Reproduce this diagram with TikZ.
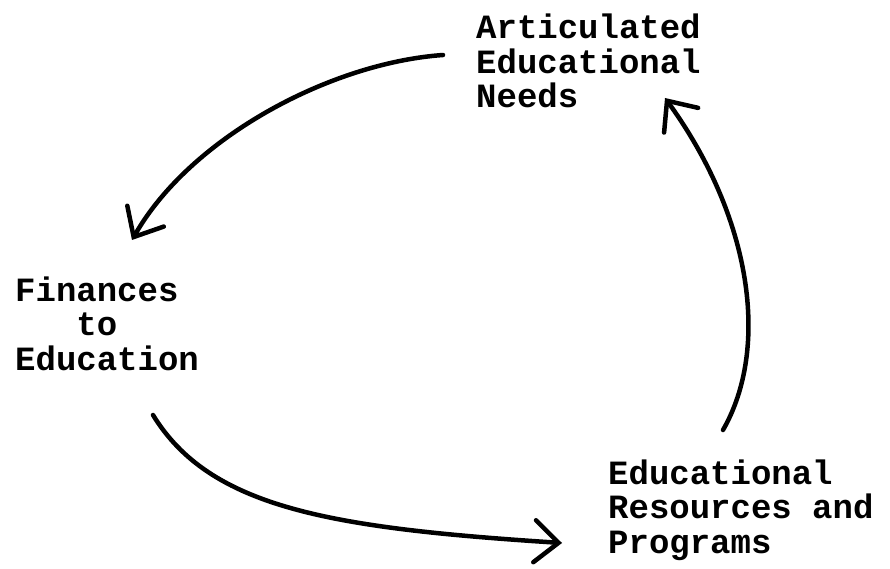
\documentclass[tikz,border=0pt]{standalone}
\usepackage{fontspec}
\newfontfamily\typewriter{Liberation Mono}
\usetikzlibrary{arrows.meta}

\begin{document}
\begin{tikzpicture}[x=1pt, y=1pt,
      every node/.style = {font=\typewriter\bfseries\fontsize{34}{34.5}\selectfont,
        align=left, inner sep=0pt, anchor=base west},
      flow/.style = {line width=4.5pt, line cap=round,
        -{Straight Barb[length=24pt, width=42pt, line cap=round]}}]
      \useasboundingbox (0,0) rectangle (890,568);
      \node (needs) at (476,460) {Articulated\\Educational\\Needs};
      \node (finances) at (15,198) {Finances\\\phantom{Fin}to\\Education};
      \node (resources) at (608,15) {Educational\\Resources and\\Programs};
      \coordinate (needs-out) at (443,513);
      \coordinate (finances-in) at (132,328);
      \coordinate (finances-out) at (153,153);
      \coordinate (resources-in) at (562,25);
      \coordinate (resources-out) at (723,138);
      \coordinate (needs-in) at (665,470);
      \draw[flow] (needs-out) .. controls (330,505) and (190,430) .. (finances-in);
      \draw[flow] (finances-out) .. controls (210,60) and (330,40) .. (resources-in);
      \draw[flow] (resources-out) .. controls (770,220) and (752,350) .. (needs-in);
  \end{tikzpicture}
\end{document}
